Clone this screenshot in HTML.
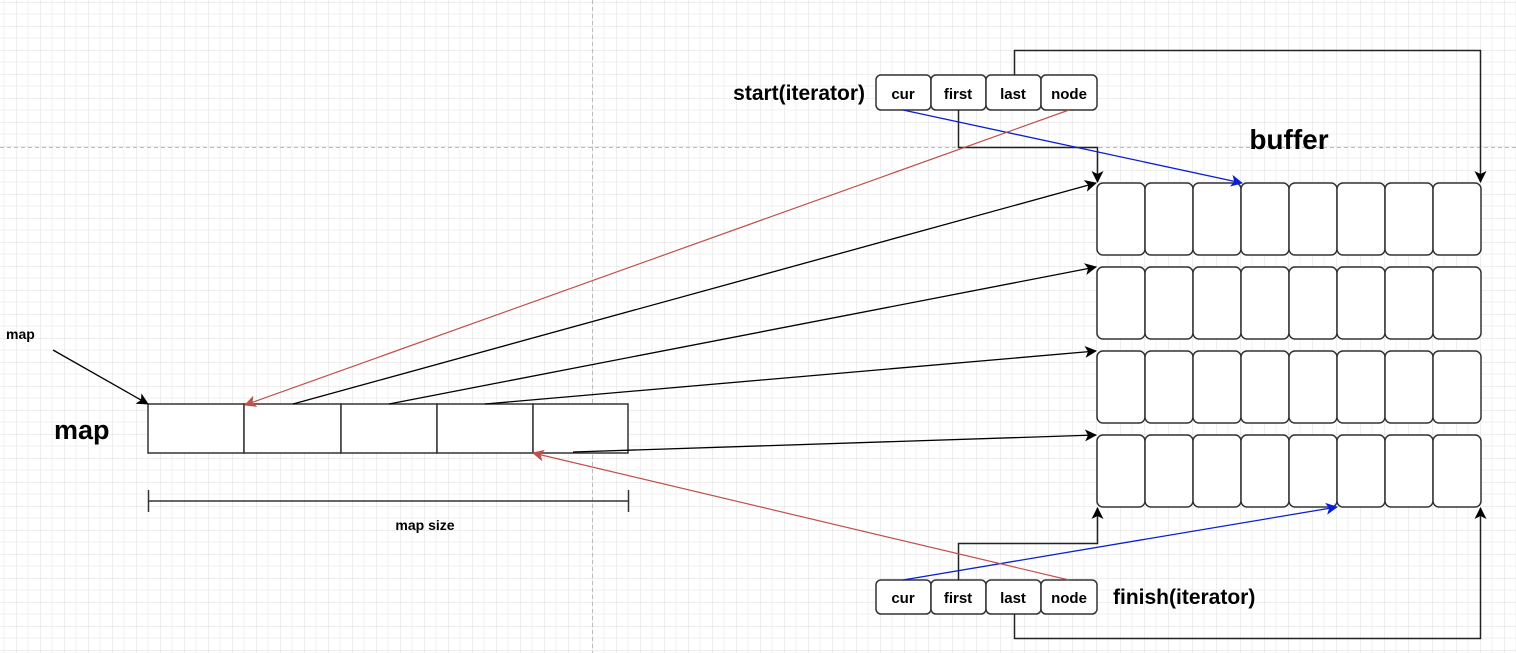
<!DOCTYPE html>
<html><head><meta charset="utf-8"><style>
html,body{margin:0;padding:0;background:#fff}
svg{display:block}
text{font-family:"Liberation Sans",Arial,sans-serif;font-weight:bold;fill:#000}
</style></head><body>
<svg width="1516" height="653" viewBox="0 0 1516 653" xmlns="http://www.w3.org/2000/svg">
<defs>
<pattern id="g" x="16" y="2" width="24" height="24" patternUnits="userSpaceOnUse">
<path d="M0 0H24M0 0V24" stroke="#dedede" stroke-width="1" fill="none"/>
<path d="M12 0V24M0 12H24" stroke="#f0f0f0" stroke-width="1" fill="none"/>
</pattern>
<marker id="ak" markerWidth="12" markerHeight="12" refX="11" refY="6" orient="auto" markerUnits="userSpaceOnUse"><path d="M0 0L12 6L0 12L3 6Z" fill="#000"/></marker>
<marker id="ab" markerWidth="12" markerHeight="12" refX="11" refY="6" orient="auto" markerUnits="userSpaceOnUse"><path d="M0 0L12 6L0 12L3 6Z" fill="#0a1fd0"/></marker>
<marker id="ar" markerWidth="12" markerHeight="12" refX="11" refY="6" orient="auto" markerUnits="userSpaceOnUse"><path d="M0 0L12 6L0 12L3 6Z" fill="#c0504d"/></marker>
</defs>
<rect width="1516" height="653" fill="url(#g)"/>
<line x1="592.5" y1="0" x2="592.5" y2="653" stroke="#bbb" stroke-dasharray="4 3"/>
<line x1="0" y1="147.5" x2="1516" y2="147.5" stroke="#bbb" stroke-dasharray="4 3"/>

<g fill="#fff" stroke="#333" stroke-width="1.5">
<rect x="148" y="404" width="96" height="49"/><rect x="244" y="404" width="97" height="49"/><rect x="341" y="404" width="96" height="49"/><rect x="437" y="404" width="96" height="49"/><rect x="533" y="404" width="95" height="49"/>
</g>
<path d="M148 501H628M148.5 490V512M628.5 490V512" stroke="#333" stroke-width="1.5" fill="none"/>
<text x="6" y="339" font-size="14">map</text>
<text x="54" y="439" font-size="27">map</text>
<text x="425" y="530" font-size="14" text-anchor="middle">map size</text>
<line x1="53" y1="350" x2="148" y2="404" stroke="#000" stroke-width="1.3" marker-end="url(#ak)"/>

<g fill="#fff" stroke="#333" stroke-width="1.5">
<g id="row">
<rect x="1097" y="183" width="48" height="72" rx="6"/><rect x="1145" y="183" width="48" height="72" rx="6"/><rect x="1193" y="183" width="48" height="72" rx="6"/><rect x="1241" y="183" width="48" height="72" rx="6"/><rect x="1289" y="183" width="48" height="72" rx="6"/><rect x="1337" y="183" width="48" height="72" rx="6"/><rect x="1385" y="183" width="48" height="72" rx="6"/><rect x="1433" y="183" width="48" height="72" rx="6"/>
</g>
<use href="#row" y="84"/><use href="#row" y="168"/><use href="#row" y="252"/>
</g>
<text x="1289" y="149" font-size="28" text-anchor="middle">buffer</text>

<g fill="#fff" stroke="#333" stroke-width="1.5">
<rect x="876" y="75" width="55" height="35" rx="5"/><rect x="931" y="75" width="55" height="35" rx="5"/><rect x="986" y="75" width="55" height="35" rx="5"/><rect x="1041" y="75" width="56" height="35" rx="5"/>
<rect x="876" y="580" width="55" height="34" rx="5"/><rect x="931" y="580" width="55" height="34" rx="5"/><rect x="986" y="580" width="55" height="34" rx="5"/><rect x="1041" y="580" width="56" height="34" rx="5"/>
</g>
<g font-size="15" text-anchor="middle">
<text x="903" y="99">cur</text><text x="958" y="99">first</text><text x="1013" y="99">last</text><text x="1069" y="99">node</text>
<text x="903" y="603">cur</text><text x="958" y="603">first</text><text x="1013" y="603">last</text><text x="1069" y="603">node</text>
</g>
<text x="865" y="100" font-size="21" text-anchor="end">start(iterator)</text>
<text x="1113" y="604" font-size="21">finish(iterator)</text>

<g fill="none" stroke="#222" stroke-width="1.5">
<path d="M958.5 110V147.5H1097.5V182" marker-end="url(#ak)"/>
<path d="M1014.5 75V50.5H1480.5V182" marker-end="url(#ak)"/>
<path d="M958.5 580V543.5H1097.5V508" marker-end="url(#ak)"/>
<path d="M1014.5 614V638.5H1480.5V508" marker-end="url(#ak)"/>
</g>
<g stroke="#000" stroke-width="1.3">
<line x1="293" y1="404" x2="1096" y2="183" marker-end="url(#ak)"/>
<line x1="389" y1="404" x2="1096" y2="267" marker-end="url(#ak)"/>
<line x1="485" y1="404" x2="1096" y2="351" marker-end="url(#ak)"/>
<line x1="573" y1="452" x2="1096" y2="435" marker-end="url(#ak)"/>
</g>
<line x1="903" y1="110" x2="1242" y2="183" stroke="#0a1fd0" stroke-width="1.3" marker-end="url(#ab)"/>
<line x1="903" y1="580" x2="1337" y2="507" stroke="#0a1fd0" stroke-width="1.3" marker-end="url(#ab)"/>
<line x1="1069" y1="110" x2="245" y2="405" stroke="#c0504d" stroke-width="1.2" marker-end="url(#ar)"/>
<line x1="1069" y1="580" x2="533" y2="453" stroke="#c0504d" stroke-width="1.2" marker-end="url(#ar)"/>
</svg>
</body></html>
